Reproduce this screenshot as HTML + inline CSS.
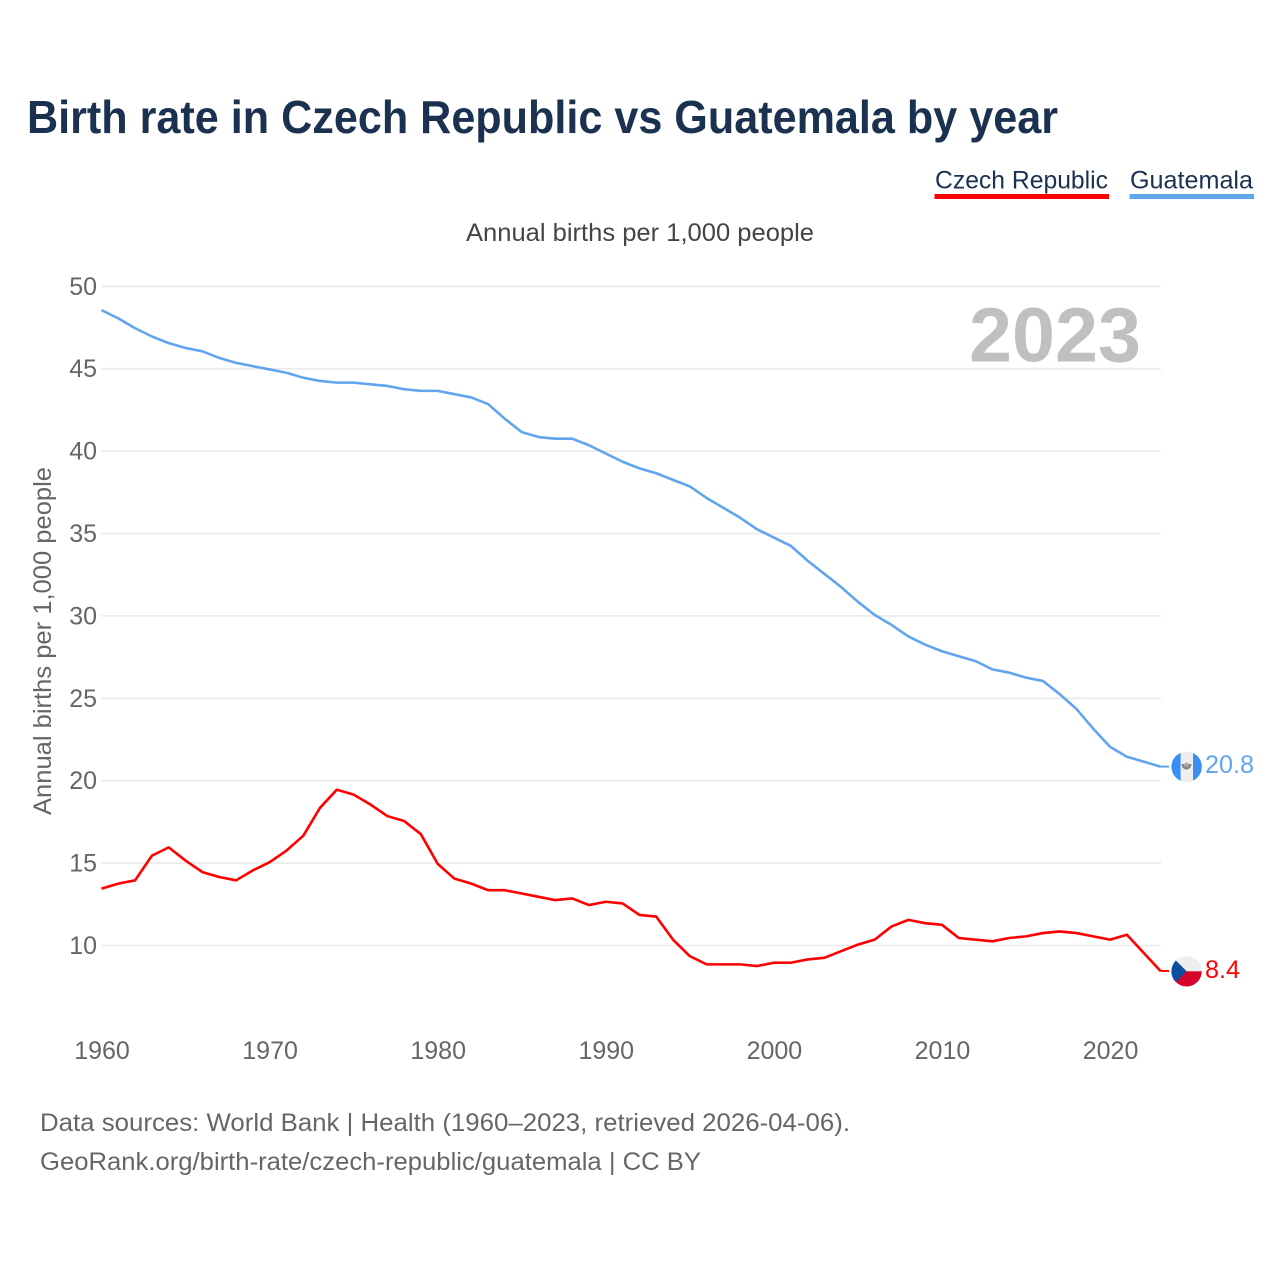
<!DOCTYPE html>
<html lang="en">
<head>
<meta charset="utf-8">
<title>Birth rate in Czech Republic vs Guatemala by year</title>
<style>
  html, body { margin: 0; padding: 0; background: #fff; }
  svg { display: block; font-family: "Liberation Sans", sans-serif; }
</style>
</head>
<body>
<svg id="chart" xmlns="http://www.w3.org/2000/svg" width="1280" height="1280" viewBox="0 0 1280 1280">
  <defs>
    <clipPath id="flag-clip-gt"><circle cx="1186.6" cy="766.8" r="15.2"/></clipPath>
    <clipPath id="flag-clip-cz"><circle cx="1186.6" cy="971.3" r="15.2"/></clipPath>
  </defs>
  <rect x="0" y="0" width="1280" height="1280" fill="#ffffff"/>

  <text x="27" y="133" font-size="46" font-weight="700" fill="#1a3150" textLength="1031" lengthAdjust="spacingAndGlyphs">Birth rate in Czech Republic vs Guatemala by year</text>

  <g>
    <text x="935" y="188.3" font-size="25" fill="#1a3150" textLength="173" lengthAdjust="spacingAndGlyphs">Czech Republic</text>
    <rect x="934.5" y="194" width="174.5" height="5" fill="#ff0000"/>
  </g>
  <g>
    <text x="1130" y="188.3" font-size="25" fill="#1a3150" textLength="123" lengthAdjust="spacingAndGlyphs">Guatemala</text>
    <rect x="1129.5" y="194" width="124.5" height="5" fill="#60a5ee"/>
  </g>

  <text x="466" y="241" font-size="25" fill="#444444" textLength="348" lengthAdjust="spacingAndGlyphs">Annual births per 1,000 people</text>

  <text transform="translate(51 815) rotate(-90)" x="0" y="0" font-size="25" fill="#666666" textLength="348" lengthAdjust="spacingAndGlyphs">Annual births per 1,000 people</text>

  <g id="grid"></g>
  <g id="y-ticks"></g>
  <g id="x-ticks"></g>

  <text x="969" y="361.5" font-size="77" font-weight="700" fill="#c0c0c0" textLength="172" lengthAdjust="spacingAndGlyphs">2023</text>

  <g id="series"></g>

  <g id="flag-gt">
    <g clip-path="url(#flag-clip-gt)">
      <rect x="1171" y="751" width="31" height="31" fill="#eeeeee"/>
      <rect x="1171" y="751" width="9.6" height="31" fill="#3a8ff5"/>
      <rect x="1193" y="751" width="9" height="31" fill="#3a8ff5"/>
      <path d="M1181.5 764 a5 5.5 0 0 0 10 0 l-2.5 0 a2.5 2.5 0 0 1 -5 0 z" fill="#808080"/>
      <circle cx="1186.6" cy="765" r="2.4" fill="#a8a8a8"/>
    </g>
  </g>
  <g id="flag-cz">
    <g clip-path="url(#flag-clip-cz)">
      <rect x="1171" y="956" width="31" height="15.3" fill="#eeeeee"/>
      <rect x="1171" y="971.3" width="31" height="16" fill="#d7052b"/>
      <polygon points="1171,955.6 1171,987 1186.6,971.3" fill="#0b4ea2"/>
    </g>
  </g>

  <text id="end-label-gt" x="1205" y="773" font-size="25" fill="#60a5ee" textLength="49" lengthAdjust="spacingAndGlyphs"></text>
  <text id="end-label-cz" x="1205" y="978" font-size="25" fill="#ff0000" textLength="35" lengthAdjust="spacingAndGlyphs"></text>

  <text x="40" y="1131" font-size="25" fill="#666666" textLength="810" lengthAdjust="spacingAndGlyphs">Data sources: World Bank | Health (1960–2023, retrieved 2026-04-06).</text>
  <text x="40" y="1170" font-size="25" fill="#666666" textLength="661" lengthAdjust="spacingAndGlyphs">GeoRank.org/birth-rate/czech-republic/guatemala | CC BY</text>
</svg>

<script>
const years = [1960,1961,1962,1963,1964,1965,1966,1967,1968,1969,1970,1971,1972,1973,1974,1975,1976,1977,1978,1979,1980,1981,1982,1983,1984,1985,1986,1987,1988,1989,1990,1991,1992,1993,1994,1995,1996,1997,1998,1999,2000,2001,2002,2003,2004,2005,2006,2007,2008,2009,2010,2011,2012,2013,2014,2015,2016,2017,2018,2019,2020,2021,2022,2023];
const guatemala = [48.5,48.0,47.4,46.9,46.5,46.2,46.0,45.6,45.3,45.1,44.9,44.7,44.4,44.2,44.1,44.1,44.0,43.9,43.7,43.6,43.6,43.4,43.2,42.8,41.9,41.1,40.8,40.7,40.7,40.3,39.8,39.3,38.9,38.6,38.2,37.8,37.1,36.5,35.9,35.2,34.7,34.2,33.3,32.5,31.7,30.8,30.0,29.4,28.7,28.2,27.8,27.5,27.2,26.7,26.5,26.2,26.0,25.2,24.3,23.1,22.0,21.4,21.1,20.8];
const czechRepublic = [13.4,13.7,13.9,15.4,15.9,15.1,14.4,14.1,13.9,14.5,15.0,15.7,16.6,18.3,19.4,19.1,18.5,17.8,17.5,16.7,14.9,14.0,13.7,13.3,13.3,13.1,12.9,12.7,12.8,12.4,12.6,12.5,11.8,11.7,10.3,9.3,8.8,8.8,8.8,8.7,8.9,8.9,9.1,9.2,9.6,10.0,10.3,11.1,11.5,11.3,11.2,10.4,10.3,10.2,10.4,10.5,10.7,10.8,10.7,10.5,10.3,10.6,9.5,8.4];
const yTickValues = [10,15,20,25,30,35,40,45,50];
const xTickValues = [1960,1970,1980,1990,2000,2010,2020];

const SVG_NS = 'http://www.w3.org/2000/svg';
const xScale = function (year) { return 101.5 + (year - 1960) * (1059 / 63); };
const yScale = function (value) { return 945.5 - (value - 10) * 16.48; };
const seriesYOffset = -0.9;

const gridGroup = document.getElementById('grid');
const yTickGroup = document.getElementById('y-ticks');
const xTickGroup = document.getElementById('x-ticks');
const seriesGroup = document.getElementById('series');

yTickValues.forEach(function (tick) {
  const line = document.createElementNS(SVG_NS, 'line');
  
  
  line.setAttribute('x1', 101.5);
  line.setAttribute('x2', 1161);
  line.setAttribute('y1', yScale(tick));
  line.setAttribute('y2', yScale(tick));
  line.setAttribute('stroke', '#eaeaea');
  line.setAttribute('stroke-width', '1.6');
  gridGroup.appendChild(line);

  const label = document.createElementNS(SVG_NS, 'text');
  
  
  label.setAttribute('x', 97);
  label.setAttribute('y', yScale(tick) + 8.5);
  label.setAttribute('text-anchor', 'end');
  label.setAttribute('font-size', '25');
  label.setAttribute('fill', '#666666');
  label.textContent = String(tick);
  yTickGroup.appendChild(label);
});

xTickValues.forEach(function (tick) {
  const label = document.createElementNS(SVG_NS, 'text');
  
  
  label.setAttribute('x', xScale(tick) + 0.5);
  label.setAttribute('y', 1059);
  label.setAttribute('text-anchor', 'middle');
  label.setAttribute('font-size', '25');
  label.setAttribute('fill', '#666666');
  label.textContent = String(tick);
  xTickGroup.appendChild(label);
});

function drawSeries(values, color, seriesName) {
  const points = values.map(function (value, i) {
    return xScale(years[i]).toFixed(2) + ',' + (yScale(value) + seriesYOffset).toFixed(2);
  });
  const path = document.createElementNS(SVG_NS, 'polyline');
  
  
  path.setAttribute('points', points.join(' '));
  path.setAttribute('fill', 'none');
  path.setAttribute('stroke', color);
  path.setAttribute('stroke-width', '2.6');
  path.setAttribute('stroke-linejoin', 'round');
  seriesGroup.appendChild(path);

  const lastY = yScale(values[values.length - 1]) + seriesYOffset;
  const connector = document.createElementNS(SVG_NS, 'line');
  
  
  connector.setAttribute('x1', xScale(years[years.length - 1]));
  connector.setAttribute('x2', 1169);
  connector.setAttribute('y1', lastY);
  connector.setAttribute('y2', lastY);
  connector.setAttribute('stroke', color);
  connector.setAttribute('stroke-width', '2');
  seriesGroup.appendChild(connector);
}

drawSeries(guatemala, '#60a5ee', 'guatemala');
drawSeries(czechRepublic, '#ff0000', 'czech-republic');

document.getElementById('end-label-gt').textContent = guatemala[guatemala.length - 1].toFixed(1);
document.getElementById('end-label-cz').textContent = czechRepublic[czechRepublic.length - 1].toFixed(1);
</script>
</body>
</html>
